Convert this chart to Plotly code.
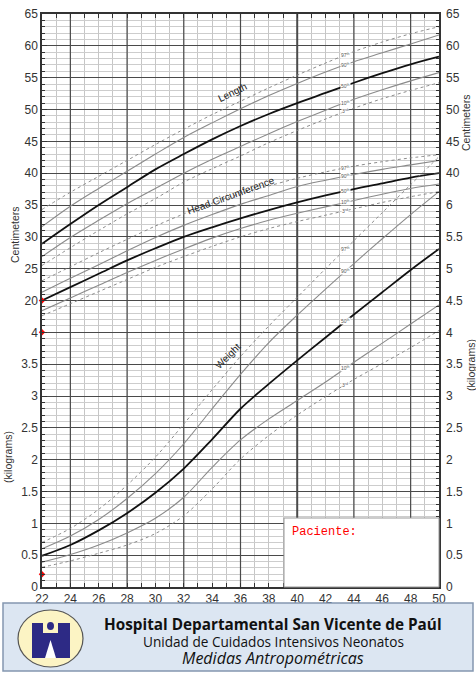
import numpy as np
import plotly.graph_objects as go

# gestational age (weeks)
weeks = [22, 24, 26, 28, 30, 32, 34, 36, 38, 40, 42, 44, 46, 48, 50]

# Length (cm)
length_p97 = [34.3, 37.0, 39.5, 42.0, 44.5, 46.9, 49.2, 51.3, 53.4, 55.4, 57.3, 59.1, 60.6, 61.9, 63.0]
length_p90 = [31.6, 34.8, 37.6, 40.3, 43.0, 45.6, 47.9, 50.1, 52.2, 54.1, 55.9, 57.5, 58.9, 60.3, 61.7]
length_p50 = [28.9, 32.0, 35.0, 37.8, 40.6, 43.0, 45.3, 47.4, 49.3, 51.0, 52.6, 54.2, 55.7, 57.1, 58.3]
length_p10 = [26.9, 29.9, 32.6, 35.2, 37.6, 40.0, 42.2, 44.2, 46.2, 48.1, 49.9, 51.6, 53.1, 54.5, 55.8]
length_p3 = [25.5, 28.3, 31.0, 33.6, 36.0, 38.6, 40.7, 42.7, 44.8, 46.7, 48.5, 50.2, 51.7, 53.0, 54.2]

# Head circumference (cm)
hc_p97 = [23.1, 25.3, 27.5, 29.6, 31.7, 33.6, 35.3, 36.8, 38.0, 39.2, 40.2, 41.1, 41.8, 42.4, 42.9]
hc_p90 = [21.3, 23.5, 25.6, 27.8, 29.9, 31.8, 33.5, 35.1, 36.5, 37.9, 38.9, 39.8, 40.6, 41.3, 42.0]
hc_p50 = [20.0, 22.1, 24.2, 26.3, 28.2, 30.0, 31.5, 32.9, 34.2, 35.4, 36.5, 37.5, 38.4, 39.3, 40.0]
hc_p10 = [18.4, 20.4, 22.4, 24.4, 26.3, 28.1, 29.8, 31.3, 32.6, 33.7, 34.7, 35.7, 36.7, 37.6, 38.3]
hc_p3 = [17.6, 19.5, 21.4, 23.3, 25.2, 26.9, 28.5, 30.0, 31.3, 32.4, 33.4, 34.4, 35.4, 36.3, 37.1]

# Weight (kg)
weight_p97 = [0.70, 0.92, 1.22, 1.60, 2.04, 2.56, 3.10, 3.62, 4.10, 4.55, 5.00, 5.44, 5.88, 6.32, 6.76]
weight_p90 = [0.60, 0.80, 1.06, 1.39, 1.78, 2.25, 2.80, 3.34, 3.84, 4.27, 4.68, 5.08, 5.47, 5.85, 6.21]
weight_p50 = [0.49, 0.66, 0.89, 1.16, 1.48, 1.86, 2.32, 2.80, 3.19, 3.56, 3.92, 4.28, 4.63, 4.98, 5.31]
weight_p10 = [0.39, 0.51, 0.66, 0.85, 1.08, 1.41, 1.88, 2.31, 2.64, 2.93, 3.22, 3.53, 3.83, 4.13, 4.43]
weight_p3 = [0.31, 0.41, 0.53, 0.66, 0.84, 1.12, 1.54, 2.01, 2.38, 2.70, 2.99, 3.26, 3.51, 3.76, 4.03]

percentiles = ["97", "90", "50", "10", "3"]
pct_labels = ["97<sup>th</sup>", "90<sup>th</sup>", "50<sup>th</sup>", "10<sup>th</sup>", "3<sup>rd</sup>"]

# patient marks on the left axis
patient_weeks = [22, 22, 22]
patient_cm = [20]
patient_kg = [4.0, 0.2]

# shared y scale: 0.5 kg per major line == 5 cm per major line
tick_units = [i * 0.5 for i in range(19)]
left_ticks = ["0", "0.5", "1", "1.5", "2", "2.5", "3", "3.5", "4",
              "20", "25", "30", "35", "40", "45", "50", "55", "60", "65"]
right_ticks = ["0", "0.5", "1", "1.5", "2", "2.5", "3", "3.5", "4", "4.5", "5", "5.5", "6",
               "40", "45", "50", "55", "60", "65"]
x_ticks = list(range(22, 51, 2))


def cm(v):
    return [(c + 25) / 10 for c in v]


W, H = 476, 674
L, R, T, B = 42, 37, 14, 87
PW, PH = W - L - R, H - T - B


def paper(xp, yp):
    return (xp - L) / PW, (H - B - yp) / PH


def note(text, xp, yp, size, color="#222", family="Liberation Sans", angle=0, **kw):
    ax, ay = paper(xp, yp)
    d = dict(x=ax, y=ay, xref="paper", yref="paper", text=text, showarrow=False,
             xanchor="center", yanchor="middle", textangle=angle,
             font=dict(size=size, color=color, family=family))
    d.update(kw)
    return d


fig = go.Figure()

styles = {
    "97": dict(color="#8c8c8c", width=1, dash="dot"),
    "90": dict(color="#8a8a8a", width=1.1),
    "50": dict(color="#111111", width=1.8),
    "10": dict(color="#8a8a8a", width=1.1),
    "3": dict(color="#8c8c8c", width=1, dash="dot"),
}

groups = [
    ("Length", [cm(length_p97), cm(length_p90), cm(length_p50), cm(length_p10), cm(length_p3)]),
    ("Head Circumference", [cm(hc_p97), cm(hc_p90), cm(hc_p50), cm(hc_p10), cm(hc_p3)]),
    ("Weight", [weight_p97, weight_p90, weight_p50, weight_p10, weight_p3]),
]

label_week = 43.4
annotations = []
for name, series in groups:
    for p, lab, ys in zip(percentiles, pct_labels, series):
        fig.add_trace(go.Scatter(x=weeks, y=ys, mode="lines", name=f"{name} {p}",
                                 line=dict(shape="spline", smoothing=0.9, **styles[p]),
                                 showlegend=False, hoverinfo="skip"))
        annotations.append(dict(x=label_week, y=float(np.interp(label_week, weeks, ys)),
                                xref="x", yref="y", text=lab, showarrow=False,
                                xanchor="center", yanchor="middle",
                                font=dict(size=5, color="#555555", family="Liberation Sans"),
                                bgcolor="white", borderpad=0))

fig.add_trace(go.Scatter(x=patient_weeks, y=cm(patient_cm) + patient_kg, mode="markers",
                         marker=dict(symbol="diamond", size=5, color="red"),
                         showlegend=False, hoverinfo="skip", cliponaxis=False))
# dummy trace so the right-hand axis gets drawn
fig.add_trace(go.Scatter(x=[22], y=[0], yaxis="y2", mode="markers",
                         marker=dict(opacity=0), showlegend=False, hoverinfo="skip"))

# curve names
annotations.append(note("Length", 232, 92, 10, angle=-26))
annotations.append(note("Head Circumference", 231, 196, 10, angle=-20))
annotations.append(note("Weight", 227, 356, 10, angle=-45))

# axis titles
annotations.append(note("Centimeters", 15, 234, 10.5, color="#333", angle=-90))
annotations.append(note("(kilograms)", 8, 457, 10.5, color="#333", angle=-90))
annotations.append(note("Centimeters", 466, 122, 10.5, color="#333", angle=-90))
annotations.append(note("(kilograms)", 471, 365, 10.5, color="#333", angle=-90))

shapes = []
# heavy vertical lines every 4 weeks
for w in range(24, 50, 4):
    shapes.append(dict(type="line", xref="x", yref="y", x0=w, x1=w, y0=0, y1=9, layer="between",
                       line=dict(color="#4a4a4a", width=2 if w == 40 else 1.2)))

# patient box
x0, y0 = paper(284, 518)
x1, y1 = paper(439, 587)
shapes.append(dict(type="rect", xref="paper", yref="paper", x0=x0, y0=y0, x1=x1, y1=y1,
                   fillcolor="white", line=dict(color="#999", width=1), layer="above"))
annotations.append(note("Paciente:", 290, 532, 12, color="red", family="Liberation Mono",
                        xanchor="left"))

# footer
x0, y0 = paper(3, 603)
x1, y1 = paper(473, 671)
shapes.append(dict(type="rect", xref="paper", yref="paper", x0=x0, y0=y0, x1=x1, y1=y1,
                   fillcolor="#dce6f2", line=dict(color="#8497b0", width=1.5)))
x0, y0 = paper(18, 610)
x1, y1 = paper(83, 667)
shapes.append(dict(type="circle", xref="paper", yref="paper", x0=x0, y0=y0, x1=x1, y1=y1,
                   fillcolor="#fcf4c4", line=dict(color="#555", width=1.2)))
for a, b in [((32, 623), (43, 658)), ((58, 623), (70, 658)), ((43, 633), (58, 658))]:
    x0, y0 = paper(*a)
    x1, y1 = paper(*b)
    shapes.append(dict(type="rect", xref="paper", yref="paper", x0=x0, y0=y0, x1=x1, y1=y1,
                       fillcolor="#2d2a85", line=dict(width=0)))
x0, y0 = paper(47, 622)
x1, y1 = paper(54, 630)
shapes.append(dict(type="circle", xref="paper", yref="paper", x0=x0, y0=y0, x1=x1, y1=y1,
                   fillcolor="#2d2a85", line=dict(width=0)))
pa, pb, pc = paper(45, 658), paper(50.5, 640), paper(56, 658)
shapes.append(dict(type="path", xref="paper", yref="paper",
                   path=f"M {pa[0]} {pa[1]} L {pb[0]} {pb[1]} L {pc[0]} {pc[1]} Z",
                   fillcolor="white", line=dict(width=0)))

annotations.append(note("<b>Hospital Departamental San Vicente de Paúl</b>", 273, 624, 15.3,
                        color="#111", family="Open Sans"))
annotations.append(note("Unidad de Cuidados Intensivos Neonatos", 273, 641, 13.6,
                        color="#111", family="Open Sans"))
annotations.append(note("<i>Medidas Antropométricas</i>", 273, 658, 16,
                        color="#111", family="Open Sans"))

tick_font = dict(size=12, color="#333", family="Liberation Sans")
fig.update_layout(
    width=W, height=H, margin=dict(l=L, r=R, t=T, b=B, autoexpand=False),
    paper_bgcolor="white", plot_bgcolor="white",
    xaxis=dict(range=[22, 50], tickvals=x_ticks, ticks="inside", ticklen=4, tickcolor="#333",
               showline=True, linecolor="#333", linewidth=1.5, mirror="ticks",
               showgrid=True, gridcolor="#c6c6c6", gridwidth=1, zeroline=False,
               tickfont=tick_font, automargin=False,
               minor=dict(dtick=1, tick0=22, ticks="inside", ticklen=4, tickcolor="#333",
                          showgrid=True, gridcolor="#c6c6c6", gridwidth=1)),
    yaxis=dict(range=[0, 9], tickvals=tick_units, ticktext=left_ticks, ticks="inside", ticklen=5,
               tickcolor="#333", showline=True, linecolor="#333", linewidth=1.5, mirror="ticks",
               showgrid=True, gridcolor="#4a4a4a", gridwidth=1.2, zeroline=False,
               tickfont=tick_font, automargin=False,
               minor=dict(dtick=0.1, tick0=0, ticks="inside", ticklen=3, tickcolor="#333",
                          showgrid=True, gridcolor="#cdcdcd", gridwidth=1)),
    yaxis2=dict(range=[0, 9], overlaying="y", side="right", tickvals=tick_units, ticktext=right_ticks,
                ticks="", showgrid=False, showline=False, zeroline=False, tickfont=tick_font,
                ticklabelstandoff=6, automargin=False),
    shapes=shapes, annotations=annotations,
)

fig.write_html("out.html", config={"displayModeBar": False},
               post_script="document.body.style.margin='0';document.body.style.overflow='hidden';")
